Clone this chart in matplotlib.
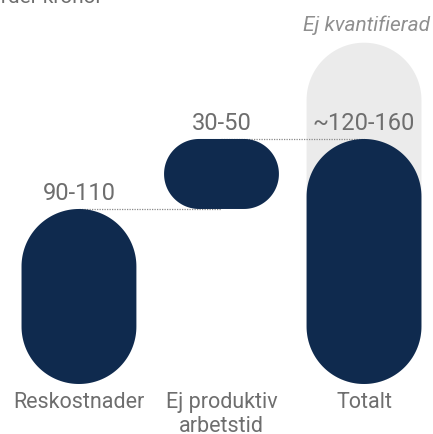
import numpy as np
import matplotlib.pyplot as plt
from matplotlib.patches import Polygon

# datos (miljarder kronor), vattenfall med mittvärden
kategorier = ['Reskostnader', 'Ej produktiv\narbetstid', 'Totalt']
etiketter = ['90-110', '30-50', '~120-160']
start = [0, 100, 0]
slut = [100, 140, 140]
ej_kvant_topp = 195
ej_kvant_text = 'Ej kvantifierad'
rubrik = 'Miljarder kronor'

navy = '#0f2a4e'
grey_bg = '#ebebeb'
text_grey = '#6e6e6e'

plt.rcParams['font.family'] = ['Roboto', 'DejaVu Sans']

W, H = 433, 434
fig = plt.figure(figsize=(W / 100, H / 100), dpi=100)
ax = fig.add_axes([0, 50 / H, 1, 384 / H])
xlim = (-0.554, 2.484)
ylim = (0, 219.4)
ax.set_xlim(*xlim)
ax.set_ylim(*ylim)

# px per unidad, para que las puntas sean circulos de verdad
sx = W / (xlim[1] - xlim[0])
sy = 384 / (ylim[1] - ylim[0])


def stadium(xc, y0, y1, halfw, n=40, **kw):
    w_px = 2 * halfw * sx
    h_px = (y1 - y0) * sy
    r = min(w_px, h_px) / 2
    l, rg = (xc - halfw) * sx, (xc + halfw) * sx
    b, t = y0 * sy, y1 * sy
    corners = [(rg - r, t - r, 0, 90), (l + r, t - r, 90, 180),
               (l + r, b + r, 180, 270), (rg - r, b + r, 270, 360)]
    pts = []
    for cx, cy, a0, a1 in corners:
        a = np.radians(np.linspace(a0, a1, n))
        pts += list(zip(cx + r * np.cos(a), cy + r * np.sin(a)))
    pts = np.array(pts)
    pts[:, 0] /= sx
    pts[:, 1] /= sy
    return Polygon(pts, closed=True, **kw)


halfw = 0.403
x = np.arange(len(kategorier))

# fondo gris "ej kvantifierad"
ax.add_patch(stadium(x[-1], 0, ej_kvant_topp, halfw, color=grey_bg, lw=0, zorder=1))

for i in x:
    ax.add_patch(stadium(i, start[i], slut[i], halfw, color=navy, lw=0, zorder=3))
    ax.annotate(etiketter[i], (i, slut[i]), xytext=(0, 3), textcoords='offset points',
                ha='center', va='bottom', fontsize=17, color=text_grey)

# lineas punteadas entre barras
for i in x[:-1]:
    ax.plot([i, i + 1], [slut[i], slut[i]], color='#8a8a8a', lw=0.9,
            ls=(0, (1, 1)), zorder=2)

ax.set_xticks(x, kategorier)
ax.tick_params(axis='x', length=0, pad=6, labelsize=15.5, labelcolor=text_grey)
for lab in ax.get_xticklabels():
    lab.set_linespacing(1.15)
ax.set_yticks([])
for s in ax.spines.values():
    s.set_visible(False)
ax.patch.set_alpha(0)

fig.text(430 / W, 1 - 31 / H, ej_kvant_text, ha='right', va='baseline',
         fontsize=15, style='italic', color='#8f8f8f')
fig.text(102 / W, 1 - 3 / H, rubrik, ha='right', va='baseline',
         fontsize=15, color=text_grey)

fig.savefig('out.png', dpi=100)
